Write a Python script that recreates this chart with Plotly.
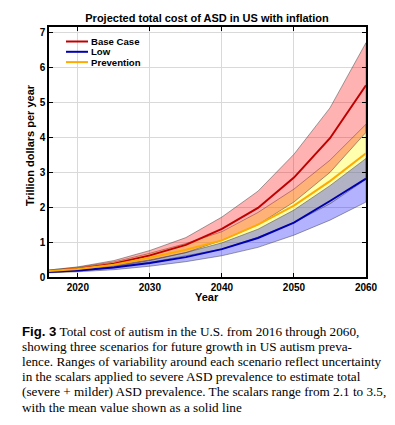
import plotly.graph_objects as go

years = [2016, 2020, 2025, 2030, 2035, 2040, 2045, 2050, 2055, 2060]

base_mean = [0.17, 0.24, 0.38, 0.62, 0.92, 1.38, 1.98, 2.85, 3.98, 5.50]
base_upper = [0.20, 0.29, 0.47, 0.76, 1.13, 1.72, 2.46, 3.52, 4.85, 6.72]
base_lower = [0.13, 0.18, 0.29, 0.47, 0.70, 1.05, 1.50, 2.15, 3.00, 4.15]

prev_mean = [0.17, 0.23, 0.35, 0.55, 0.78, 1.05, 1.50, 2.05, 2.75, 3.55]
prev_upper = [0.20, 0.28, 0.43, 0.68, 0.96, 1.30, 1.85, 2.52, 3.35, 4.38]
prev_lower = [0.13, 0.17, 0.27, 0.42, 0.60, 0.80, 1.14, 1.56, 2.10, 2.80]

low_mean = [0.15, 0.19, 0.27, 0.40, 0.57, 0.80, 1.12, 1.56, 2.18, 2.82]
low_upper = [0.18, 0.23, 0.33, 0.49, 0.70, 0.98, 1.37, 1.92, 2.62, 3.40]
low_lower = [0.12, 0.15, 0.21, 0.31, 0.44, 0.61, 0.85, 1.20, 1.63, 2.15]

x_ticks = [2020, 2030, 2040, 2050, 2060]
y_ticks = [0, 1, 2, 3, 4, 5, 6, 7]

series_names = ["Base Case", "Low", "Prevention"]
series_colors = ["#c00000", "#0000b0", "#ffaa00"]

title = "Projected total cost of ASD in US with inflation"
x_title = "Year"
y_title = "Trillion dollars per year"
caption_lines = [
    "<span style='font-family:Liberation Sans'><b>Fig. 3</b></span> Total cost of autism in the U.S. from 2016 through 2060,",
    "showing three scenarios for future growth in US autism preva-",
    "lence. Ranges of variability around each scenario reflect uncertainty",
    "in the scalars applied to severe ASD prevalence to estimate total",
    "(severe + milder) ASD prevalence. The scalars range from 2.1 to 3.5,",
    "with the mean value shown as a solid line",
]

# page has an 8px body margin; work in page pixels and convert
OFF = 8
FW, FH = 395 - OFF, 425 - OFF
PL, PR, PT, PB = 49, 366, 27, 277          # plot area in page pixels
L, T = PL - OFF, PT - OFF
R, B = FW - (PR - OFF), FH - (PB - OFF)
W, H = PR - PL, PB - PT

def px_x(xp):
    return (xp - PL) / W

def px_y(yp):
    return (PB - yp) / H

fig = go.Figure()

def band(lower, upper, color):
    fig.add_trace(go.Scatter(
        x=years + years[::-1], y=upper + lower[::-1],
        fill="toself", fillcolor=color, mode="lines",
        line=dict(color="rgba(60,60,60,0.8)", width=0.6),
        showlegend=False, hoverinfo="skip"))

band(prev_lower, prev_upper, "rgba(255,255,0,0.32)")
band(base_lower, base_upper, "rgba(255,0,0,0.30)")
band(low_lower, low_upper, "rgba(0,0,255,0.30)")

for ys, name, col in zip([base_mean, low_mean, prev_mean], series_names, series_colors):
    fig.add_trace(go.Scatter(x=years, y=ys, mode="lines", name=name,
                             line=dict(color=col, width=2), showlegend=False))

# compact legend (layout only)
for i, (name, col) in enumerate(zip(series_names, series_colors)):
    yp = px_y(41.5 + 10.3 * i)
    fig.add_shape(type="line", xref="paper", yref="paper",
                  x0=px_x(66), x1=px_x(88), y0=yp, y1=yp,
                  line=dict(color=col, width=2))
    fig.add_annotation(text="<b>" + name + "</b>", xref="paper", yref="paper",
                       x=px_x(89), y=yp, xanchor="left", yanchor="middle",
                       showarrow=False, font=dict(family="Liberation Sans", size=9.6, color="black"))

axis_common = dict(
    showline=True, linecolor="black", linewidth=1.5, mirror="ticks",
    ticks="inside", ticklen=4, tickwidth=1.2, tickcolor="black",
    showgrid=True, gridcolor="#d9d9d9", gridwidth=1, zeroline=False,
    automargin=False,
    tickfont=dict(family="Liberation Sans", size=10, color="black", weight="bold"),
)

fig.update_xaxes(range=[2016, 2060], tickvals=x_ticks, **axis_common)
fig.update_yaxes(range=[0, 7.17], tickvals=y_ticks, **axis_common)

fig.add_annotation(text="<b>" + x_title + "</b>", xref="paper", yref="paper",
                   x=px_x(207), y=px_y(296.5), xanchor="center", yanchor="middle",
                   showarrow=False, font=dict(family="Liberation Sans", size=11, color="black"))
fig.add_annotation(text="<b>" + y_title + "</b>", xref="paper", yref="paper",
                   x=px_x(30), y=px_y(145), xanchor="center", yanchor="middle", textangle=-90,
                   showarrow=False, font=dict(family="Liberation Sans", size=11, color="black"))

for i, line in enumerate(caption_lines):
    fig.add_annotation(text=line, xref="paper", yref="paper",
                       x=px_x(20), y=px_y(331 + 15.2 * i),
                       xanchor="left", yanchor="middle", showarrow=False,
                       font=dict(family="Liberation Serif", size=13.2, color="black"))

fig.update_layout(
    width=FW, height=FH,
    margin=dict(l=L, r=R, t=T, b=B),
    paper_bgcolor="white", plot_bgcolor="white",
    title=dict(text="<b>" + title + "</b>", x=(207 - OFF) / FW, xanchor="center",
               y=1 - (18 - OFF) / FH, yanchor="middle",
               font=dict(family="Liberation Sans", size=11, color="black")),
    showlegend=False,
)

fig.write_html("out.html")
